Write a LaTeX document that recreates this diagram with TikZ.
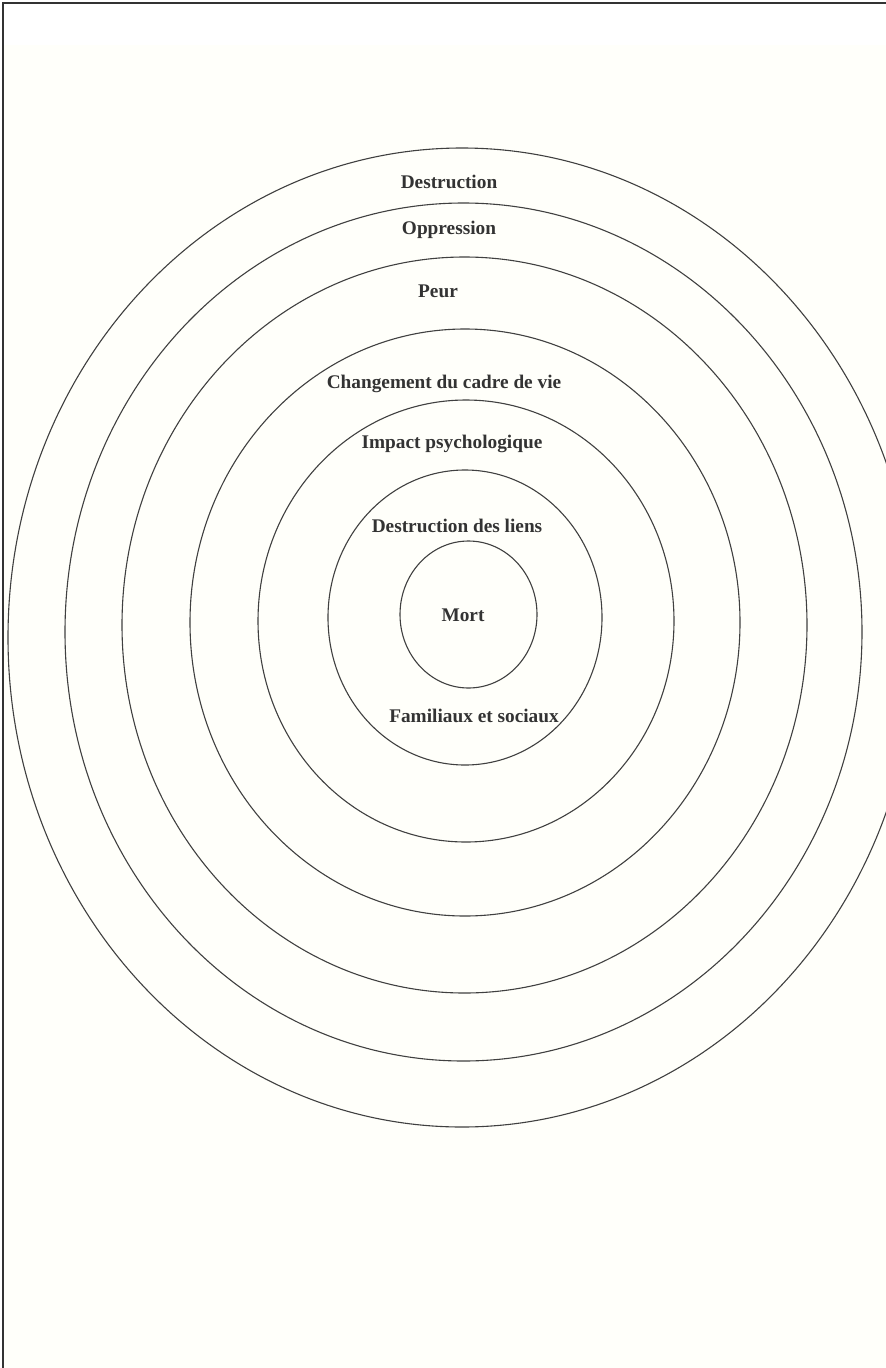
\documentclass[tikz,border=0pt]{standalone}
\usepackage{fontspec}
\setmainfont{Liberation Serif}
\begin{document}
\begin{tikzpicture}[x=1pt,y=-1pt,
  ring/.style={draw=black!75, line width=1.1pt},
  lbl/.style={font=\fontsize{19.3}{22}\selectfont\bfseries, text=black!80, inner sep=0pt}]
\useasboundingbox (0,0) rectangle (886,1368);
\fill[white] (0,0) rectangle (886,1368);
\fill[yellow!2] (3,45) rectangle (886,1368);
\draw[black!80, line width=1.2pt] (3,1368) -- (3,3) -- (886,3);
\begin{scope}
\clip (0,0) rectangle (886,1368);
\draw[ring] (462,637.5) ellipse [x radius=454, y radius=489.5];
\draw[ring] (463.5,632) ellipse [x radius=398.5, y radius=429];
\draw[ring] (464.5,625) ellipse [x radius=342.5, y radius=368];
\draw[ring] (465,622.5) ellipse [x radius=275, y radius=293.5];
\draw[ring] (466,621) ellipse [x radius=208, y radius=221];
\draw[ring] (465,617.5) ellipse [x radius=137, y radius=147.5];
\draw[ring] (468.5,614.5) ellipse [x radius=68.5, y radius=73.5];
\end{scope}
\node[lbl] (l1) at (449,182) {Destruction};
\node[lbl] (l2) at (449,230) {Oppression};
\node[lbl] (l3) at (438,291) {Peur};
\node[lbl] (l4) at (444,384) {Changement du cadre de vie};
\node[lbl] (l5) at (452,444) {Impact psychologique};
\node[lbl] (l6) at (457,526) {Destruction des liens};
\node[lbl] (l7) at (463,615) {Mort};
\node[lbl] (l8) at (474,716) {Familiaux et sociaux};
\end{tikzpicture}
\end{document}
